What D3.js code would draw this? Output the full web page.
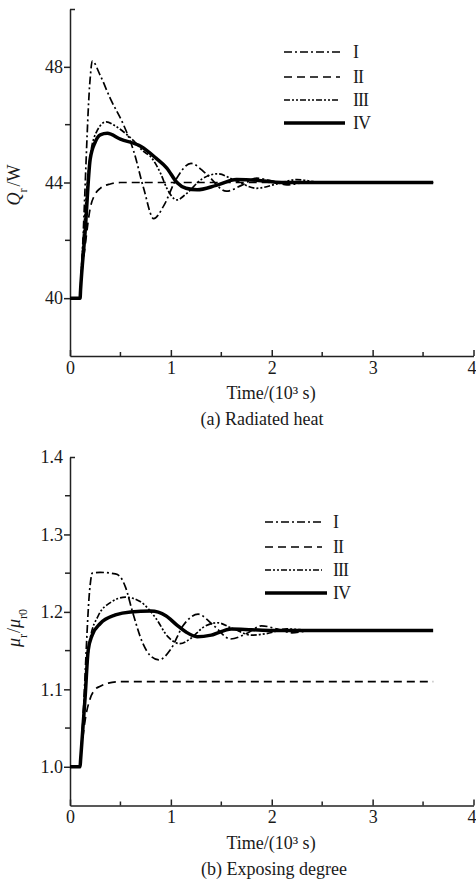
<!DOCTYPE html>
<html><head><meta charset="utf-8">
<script src="https://cdn.jsdelivr.net/npm/d3@7"></script>
<style>
body{margin:0;background:#fff}
svg{display:block}
text{font-family:"Liberation Serif","Times New Roman",serif;fill:#1a1a1a}
</style>
</head><body><svg id="c" width="476" height="883"></svg>
<script>
// ---- data ----
const timeTicks = [0, 1, 2, 3, 4];
const timeMinor = [0.5, 1.5, 2.5, 3.5];
const qTicks = [40, 44, 48];
const qMinor = [42, 46];
const muTicks = [1.0, 1.1, 1.2, 1.3];
const muMinor = [1.05, 1.15, 1.25, 1.35];
const seriesNames = ["I", "II", "III", "IV"];

// Radiated heat Q_r (W) vs time (10^3 s)
const qI = [[0,40],[0.1,40],[0.105,40.4],[0.12,41.4],[0.2,47.6],[0.22,48.2],[0.3,47.7],[0.4,46.9],[0.53,46.0],[0.63,45.1],[0.73,43.8],[0.83,42.75],[0.93,43.2],[1.05,44.1],[1.2,44.66],[1.35,44.3],[1.55,43.7],[1.7,43.9],[1.85,44.15],[2.0,44.05],[2.15,43.92],[2.35,44.0],[3.6,44.0]];
const qII = [[0,40],[0.1,40],[0.105,40.3],[0.15,41.8],[0.2,43.1],[0.25,43.6],[0.3,43.8],[0.4,43.95],[0.5,44.0],[3.6,44.0]];
const qIII = [[0,40],[0.1,40],[0.105,40.4],[0.15,43.0],[0.2,44.9],[0.27,45.8],[0.36,46.1],[0.45,45.95],[0.55,45.7],[0.63,45.45],[0.72,45.1],[0.81,44.85],[0.9,44.3],[0.96,43.8],[1.06,43.4],[1.15,43.6],[1.3,44.1],[1.46,44.3],[1.65,44.05],[1.85,43.8],[2.05,43.95],[2.25,44.1],[2.5,44.0],[3.6,44.0]];
const qIV = [[0,40],[0.1,40],[0.105,40.3],[0.15,42.3],[0.2,44.8],[0.25,45.4],[0.3,45.65],[0.37,45.7],[0.5,45.5],[0.7,45.25],[0.85,44.85],[0.96,44.5],[1.06,44.0],[1.15,43.8],[1.26,43.75],[1.45,43.9],[1.65,44.1],[1.85,44.08],[2.1,44.0],[3.6,44.0]];

// Exposing degree mu_r/mu_r0 vs time (10^3 s)
const muI = [[0,1.0],[0.1,1.0],[0.105,1.008],[0.12,1.04],[0.2,1.235],[0.22,1.25],[0.3,1.251],[0.45,1.249],[0.5,1.245],[0.55,1.232],[0.62,1.2],[0.72,1.16],[0.8,1.143],[0.88,1.138],[1.0,1.152],[1.12,1.182],[1.27,1.197],[1.42,1.183],[1.59,1.165],[1.75,1.172],[1.9,1.182],[2.05,1.178],[2.2,1.173],[2.4,1.176],[3.6,1.176]];
const muII = [[0,1.0],[0.1,1.0],[0.105,1.008],[0.15,1.06],[0.2,1.088],[0.25,1.1],[0.3,1.104],[0.38,1.108],[0.5,1.11],[3.6,1.11]];
const muIII = [[0,1.0],[0.1,1.0],[0.105,1.01],[0.15,1.1],[0.2,1.165],[0.28,1.195],[0.4,1.212],[0.55,1.219],[0.7,1.213],[0.85,1.192],[0.97,1.168],[1.09,1.159],[1.2,1.166],[1.32,1.18],[1.46,1.186],[1.62,1.178],[1.8,1.17],[1.95,1.172],[2.15,1.178],[2.4,1.176],[3.6,1.176]];
const muIV = [[0,1.0],[0.1,1.0],[0.105,1.009],[0.15,1.09],[0.18,1.15],[0.22,1.17],[0.3,1.185],[0.45,1.196],[0.6,1.2],[0.8,1.201],[0.95,1.195],[1.06,1.183],[1.15,1.174],[1.26,1.168],[1.4,1.17],[1.6,1.178],[1.8,1.177],[2.0,1.176],[3.6,1.176]];

// ---- styles ----
const dashes = ["8,3,2,3", "8,5", "6,2,2,2,2,2", null];
const widths = [1.7, 1.7, 1.7, 3.5];
const FS = 18;

const svg = d3.select("#c");

function panel(opt) {
  const x = d3.scaleLinear().domain([0, 4]).range([70, 473.5]);
  const y = d3.scaleLinear().domain(opt.yDomain).range([opt.yBottom, opt.yTop]);
  const g = svg.append("g");

  // x axis (ticks pointing up)
  const xa = g.append("g").attr("transform", `translate(0,${opt.yBottom})`)
    .call(d3.axisBottom(x).tickValues(timeTicks).tickSize(-6).tickSizeOuter(0).tickPadding(5).tickFormat(d3.format("d")));
  xa.selectAll("text").attr("font-size", FS).attr("font-family", "Liberation Serif");
  // keep the last label inside the window
  xa.selectAll(".tick text").filter(d => d === 4).attr("text-anchor", "end").attr("x", 2.5);
  xa.selectAll("line,path").attr("stroke", "#222").attr("stroke-width", 1.5);
  g.append("g").selectAll("line").data(timeMinor).join("line")
    .attr("x1", d => x(d)).attr("x2", d => x(d))
    .attr("y1", opt.yBottom).attr("y2", opt.yBottom - 4)
    .attr("stroke", "#222").attr("stroke-width", 1.5);

  // y axis (ticks pointing left)
  const ya = g.append("g").attr("transform", "translate(70,0)")
    .call(d3.axisLeft(y).tickValues(opt.yTicks).tickSize(6).tickSizeOuter(0).tickPadding(1).tickFormat(opt.fmt));
  ya.selectAll("text").attr("font-size", FS).attr("font-family", "Liberation Serif");
  ya.selectAll("line,path").attr("stroke", "#222").attr("stroke-width", 1.5);
  g.append("g").selectAll("line").data(opt.yMinor).join("line")
    .attr("x1", 70).attr("x2", 65)
    .attr("y1", d => y(d)).attr("y2", d => y(d))
    .attr("stroke", "#222").attr("stroke-width", 1.5);
  // top end tick
  g.append("line").attr("x1", 70).attr("x2", 75)
    .attr("y1", opt.yTop + 0.5).attr("y2", opt.yTop + 0.5)
    .attr("stroke", "#222").attr("stroke-width", 1.5);
  if (opt.topLabel) {
    g.append("text").attr("x", 63).attr("y", y(opt.yDomain[1])).attr("dy", "0.32em")
      .attr("text-anchor", "end").attr("font-size", FS).text(opt.topLabel);
  }

  // lines
  const line = d3.line().x(d => x(d[0])).y(d => y(d[1])).curve(d3.curveMonotoneX);
  opt.series.forEach((s, i) => {
    g.append("path").datum(s).attr("d", line)
      .attr("fill", "none").attr("stroke", "#000")
      .attr("stroke-width", widths[i])
      .attr("stroke-dasharray", dashes[i])
      .attr("stroke-linejoin", "round");
  });

  // legend
  const lg = g.append("g");
  seriesNames.forEach((n, i) => {
    const yy = opt.legendRows[i];
    lg.append("line").attr("x1", opt.legX1).attr("x2", i === 3 ? opt.legX2 + 5 : opt.legX2)
      .attr("y1", yy).attr("y2", yy)
      .attr("stroke", "#000").attr("stroke-width", widths[i])
      .attr("stroke-dasharray", dashes[i]);
    lg.append("text").attr("x", opt.legTX).attr("y", yy).attr("dy", "0.34em")
      .attr("font-size", FS).attr("letter-spacing", "-1px").text(n);
  });

  // axis title and caption
  g.append("text").attr("x", 271).attr("y", opt.yBottom + 43).attr("text-anchor", "middle")
    .attr("font-size", FS).text("Time/(10³ s)");
  g.append("text").attr("x", opt.capX).attr("y", opt.yBottom + 69).attr("text-anchor", "middle")
    .attr("font-size", FS).text(opt.caption);

  // y label
  const yl = g.append("text").attr("transform", `translate(${opt.ylabX},${opt.ylabY}) rotate(-90)`)
    .attr("text-anchor", "middle").attr("font-size", FS);
  opt.ylabel(yl);
}

panel({
  yDomain: [38, 50], yBottom: 356, yTop: 9,
  yTicks: qTicks, yMinor: qMinor, fmt: d3.format("d"),
  series: [qI, qII, qIII, qIV],
  legendRows: [52, 77, 100, 123], legX1: 284, legX2: 340, legTX: 353,
  caption: "(a) Radiated heat", capX: 262,
  ylabX: 20, ylabY: 185,
  ylabel: t => {
    t.append("tspan").attr("font-style", "italic").text("Q");
    t.append("tspan").attr("font-size", 12).attr("baseline-shift", "sub").text("r");
    t.append("tspan").attr("dx", 2).text("/W");
  }
});

panel({
  yDomain: [0.95, 1.4], yBottom: 805.5, yTop: 457,
  yTicks: muTicks, yMinor: muMinor, fmt: d3.format(".1f"), topLabel: "1.4",
  series: [muI, muII, muIII, muIV],
  legendRows: [522, 547, 570, 593], legX1: 265, legX2: 322, legTX: 333,
  caption: "(b) Exposing degree", capX: 274,
  ylabX: 20, ylabY: 628,
  ylabel: t => {
    t.append("tspan").attr("font-style", "italic").text("μ");
    t.append("tspan").attr("font-size", 12).attr("baseline-shift", "sub").text("r");
    t.append("tspan").attr("dx", 1).text("/");
    t.append("tspan").attr("font-style", "italic").text("μ");
    t.append("tspan").attr("font-size", 12).attr("baseline-shift", "sub").text("r0");
  }
});
</script>
</body></html>
